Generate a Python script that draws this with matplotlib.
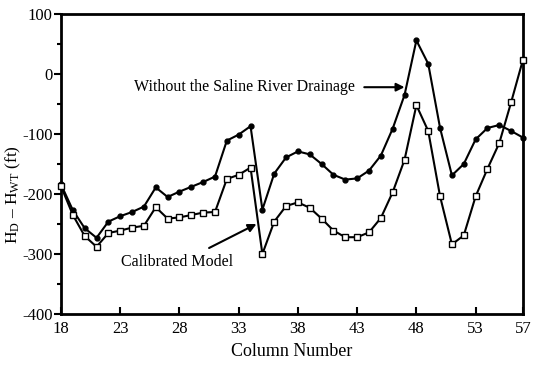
import matplotlib
matplotlib.use("Agg")
import matplotlib.pyplot as plt
from matplotlib.ticker import MultipleLocator, FixedLocator

columns = list(range(18, 58))
without_saline = [-184, -227, -257, -273, -246, -237, -230, -221, -189, -205,
                  -196, -188, -180, -171, -111, -101, -87, -226, -166, -139,
                  -129, -134, -150, -168, -176, -174, -161, -136, -91, -35,
                  56, 17, -90, -169, -150, -109, -90, -85, -95, -106]
calibrated = [-187, -235, -270, -288, -265, -261, -256, -253, -222, -241,
              -239, -235, -231, -230, -175, -168, -156, -300, -246, -220,
              -214, -223, -241, -261, -272, -272, -264, -240, -197, -143,
              -52, -95, -204, -284, -269, -204, -158, -115, -47, 24]
x_ticks = [18, 23, 28, 33, 38, 43, 48, 53, 57]

plt.rcParams['font.family'] = ['Liberation Serif', 'DejaVu Serif']
plt.rcParams['mathtext.fontset'] = 'custom'
plt.rcParams['mathtext.rm'] = 'Liberation Serif'
plt.rcParams['mathtext.it'] = 'Liberation Serif:italic'
plt.rcParams['axes.unicode_minus'] = False

fig = plt.figure(figsize=(5.44, 3.65), dpi=100)
ax = fig.add_axes([61/544, 1-314/365, (523-61)/544, 300/365])

ax.plot(columns, without_saline, color='black', lw=1.5, marker='o', ms=3.5,
        mfc='black', mec='black', clip_on=False, zorder=3)
ax.plot(columns, calibrated, color='black', lw=1.5, marker='s', ms=4.5,
        mfc='white', mec='black', mew=1.0, clip_on=False, zorder=3)

ax.set_xlim(18, 57)
ax.set_ylim(-400, 100)
ax.xaxis.set_major_locator(FixedLocator(x_ticks))
ax.yaxis.set_major_locator(MultipleLocator(100))
ax.yaxis.set_minor_locator(MultipleLocator(50))

for s in ax.spines.values():
    s.set_linewidth(2)

ax.tick_params(axis='x', direction='in', length=5, width=1.5, labelsize=12, pad=5)
ax.tick_params(axis='y', which='major', direction='out', length=5, width=1.5, labelsize=12, pad=1)
ax.tick_params(axis='y', which='minor', direction='out', length=3, width=1.5)

ax.set_xlabel('Column Number', fontsize=13, labelpad=4)
fig.text(13/544, 1 - 195/365, r'H$_\mathrm{D}$ – H$_\mathrm{WT}$ (ft)', fontsize=12.5,
         rotation=90, ha='center', va='center')

ax.annotate('', xy=(47.0, -22), xytext=(43.6, -22),
            arrowprops=dict(arrowstyle='-|>', color='black', lw=1.5,
                            mutation_scale=12, shrinkA=0, shrinkB=0))
ax.text(42.8, -22, 'Without the Saline River Drainage', ha='right', va='center', fontsize=11.5)

ax.annotate('', xy=(34.5, -250), xytext=(30.5, -290),
            arrowprops=dict(arrowstyle='-|>', color='black', lw=1.5,
                            mutation_scale=12, shrinkA=0, shrinkB=0))
ax.text(23.1, -314, 'Calibrated Model', ha='left', va='center', fontsize=11.5)

fig.savefig('out.png', dpi=100)
